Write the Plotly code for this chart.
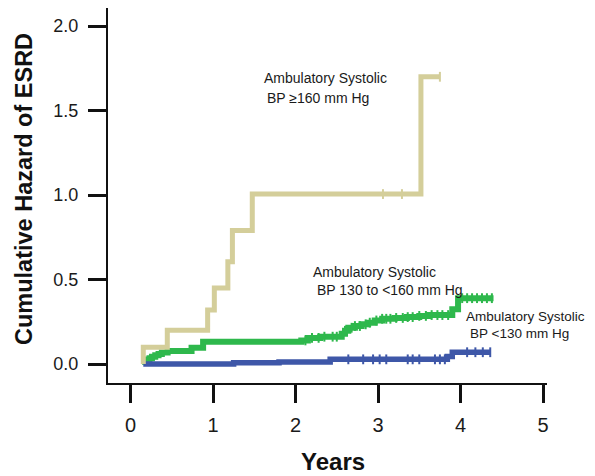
import numpy as np
import plotly.graph_objects as go

# ---- data ----
tan_t = [0.155, 0.155, 0.446, 0.935, 1.016, 1.18, 1.235, 1.476, 3.52, 3.75]
tan_y = [0.0, 0.10, 0.20, 0.32, 0.45, 0.605, 0.79, 1.006, 1.70, 1.70]
tan_cens = [3.06, 3.29, 3.75]

green_t = [0.14, 0.17, 0.20, 0.23, 0.26, 0.30, 0.34, 0.38, 0.45, 0.74, 0.88, 2.07, 2.15,
           2.30, 2.56, 2.60, 2.64, 2.72, 2.80, 2.88, 2.96, 3.05, 3.20, 3.35, 3.50, 3.62,
           3.90, 3.97, 4.40]
green_y = [0.014, 0.02, 0.027, 0.035, 0.043, 0.052, 0.060, 0.068, 0.078, 0.096, 0.132, 0.14,
           0.155, 0.162, 0.18, 0.197, 0.215, 0.225, 0.235, 0.245, 0.258, 0.268, 0.273, 0.278,
           0.285, 0.29, 0.325, 0.39, 0.39]
green_cens = [2.12, 2.2, 2.28, 2.35, 2.45, 2.5, 2.6, 2.68, 2.72, 2.78, 2.85, 2.9, 2.98, 3.05,
              3.1, 3.15, 3.22, 3.3, 3.36, 3.42, 3.5, 3.58, 3.65, 3.72, 3.78, 3.85, 4.02, 4.08,
              4.14, 4.2, 4.26, 4.32, 4.38]

blue_t = [0.155, 1.25, 1.8, 2.42, 3.84, 3.90, 4.36]
blue_y = [0.0, 0.008, 0.013, 0.028, 0.045, 0.07, 0.07]
blue_cens = [2.64, 2.82, 2.94, 3.02, 3.1, 3.36, 3.42, 3.5, 3.69, 3.75, 3.81, 4.08, 4.18, 4.27, 4.36]

x_ticks = [0, 1, 2, 3, 4, 5]
y_ticks = [0.0, 0.5, 1.0, 1.5, 2.0]

TAN = "#D4CE9A"
GREEN = "#2EB84C"
BLUE = "#3E57A8"


def step_at(ts, ys, pts):
    ts = np.asarray(ts)
    ys = np.asarray(ys)
    idx = np.searchsorted(ts, np.asarray(pts), side="right") - 1
    idx = np.clip(idx, 0, len(ys) - 1)
    return ys[idx]


fig = go.Figure()

for ts, ys, cens, col, w in [
    (green_t, green_y, green_cens, GREEN, 6),
    (blue_t, blue_y, blue_cens, BLUE, 5.5),
    (tan_t, tan_y, tan_cens, TAN, 5),
]:
    fig.add_trace(go.Scatter(x=ts, y=ys, mode="lines", line=dict(color=col, width=w, shape="hv"),
                             showlegend=False, hoverinfo="skip"))
    fig.add_trace(go.Scatter(x=cens, y=step_at(ts, ys, cens), mode="markers",
                             marker=dict(symbol="line-ns", size=7,
                                         line=dict(color=col, width=2)),
                             showlegend=False, hoverinfo="skip"))

FONT = "Liberation Sans, Arial, sans-serif"

annots = [
    ("Ambulatory Systolic", 1.594, 1.692, 14),
    ("BP ≥160 mm Hg", 1.63, 1.574, 14),
    ("Ambulatory Systolic", 2.19, 0.544, 14),
    ("BP 130 to <160 mm Hg", 2.24, 0.438, 14),
    ("Ambulatory Systolic", 4.04, 0.28, 13.5),
    ("BP <130 mm Hg", 4.095, 0.181, 13.5),
]
for txt, ax_, ay_, fs in annots:
    fig.add_annotation(x=ax_, y=ay_, xref="x", yref="y", text=txt, showarrow=False,
                       xanchor="left", yanchor="middle",
                       font=dict(family=FONT, size=fs, color="#1a1a1a"))

axis_common = dict(showline=True, linewidth=2, linecolor="#111", ticks="outside",
                   ticklen=18, tickwidth=2.5, tickcolor="#111", showgrid=False,
                   zeroline=False, mirror=False)

# page has an 8px body margin; plot area should sit at x 108..547, y 8..383 on the page
fig.update_layout(
    width=587, height=476,
    margin=dict(l=100, r=48, t=0, b=101),
    paper_bgcolor="white", plot_bgcolor="white",
    xaxis=dict(range=[-0.2727, 5.048], tickvals=x_ticks, ticktext=[str(v) for v in x_ticks],
               ticklabelstandoff=5, tickfont=dict(family=FONT, size=20, color="#1a1a1a"),
               **axis_common),
    yaxis=dict(range=[-0.112, 2.107], tickvals=y_ticks, ticktext=[f"{v:.1f}" for v in y_ticks],
               ticklabelstandoff=6, tickfont=dict(family=FONT, size=18, color="#1a1a1a"),
               **axis_common),
    hovermode=False,
)

PX0, PX1, PY0, PY1 = 108, 547, 8, 383
fig.add_annotation(xref="paper", yref="paper",
                   x=(333 - PX0) / (PX1 - PX0), y=-(462 - PY1) / (PY1 - PY0),
                   xanchor="center", yanchor="middle",
                   text="<b>Years</b>", showarrow=False,
                   font=dict(family=FONT, size=24, color="#111"))
fig.add_annotation(xref="paper", yref="paper", x=(24 - PX0) / (PX1 - PX0),
                   y=(PY1 - 189) / (PY1 - PY0), xanchor="center", yanchor="middle",
                   text="<b>Cumulative Hazard of ESRD</b>",
                   textangle=-90, showarrow=False,
                   font=dict(family=FONT, size=23.5, color="#111"))

fig.write_html("out.html")
